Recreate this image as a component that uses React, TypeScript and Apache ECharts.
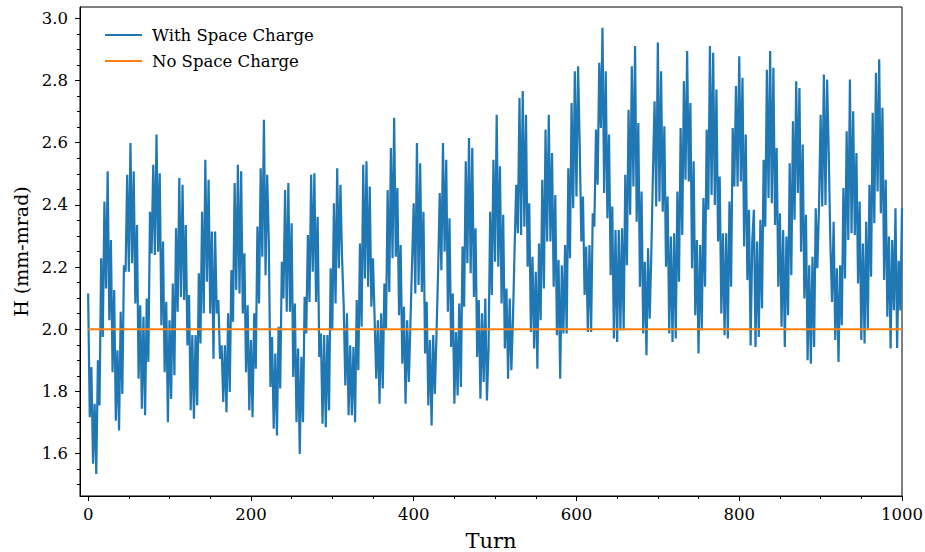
import React, { useEffect, useRef } from "react";
import * as echarts from "echarts";

// Sampling step of the digitised "With Space Charge" trace (turns)
const TURN_STEP = 2;

// H (mm-mrad) with space charge, turns 0..154
const withScA = [
  2.115, 1.717, 1.878, 1.567, 1.760, 1.534, 1.900, 1.755, 2.228, 1.975,
  2.411, 2.131, 2.508, 2.029, 2.287, 1.862, 2.126, 1.706, 1.932, 1.674,
  2.056, 1.792, 2.206, 2.185, 2.497, 2.185, 2.599, 2.212, 2.508, 2.083,
  2.335, 1.841, 2.077, 1.744, 2.040, 1.723, 2.099, 1.895, 2.378, 2.244,
  2.529, 2.239, 2.626, 2.249, 2.502, 2.013, 2.282, 1.862, 2.088, 1.701,
  2.029, 1.776, 2.147, 1.852, 2.325, 2.056, 2.486, 2.104, 2.465, 2.094,
  2.335, 1.948, 2.110, 1.739, 1.981, 1.712, 1.981, 1.755, 2.180, 1.954,
  2.378, 2.051, 2.545, 2.153, 2.481, 2.051, 2.314, 1.905,
];
// turns 156..322
const withScB = [
  2.314, 2.051, 2.094, 1.905, 1.948, 1.766, 1.948, 1.733, 2.051, 1.798,
  2.190, 2.024, 2.470, 2.126, 2.529, 2.115, 2.508, 2.051, 2.244, 1.862,
  2.077, 1.739, 1.965, 1.717, 2.051, 1.873, 2.330, 2.083, 2.518, 2.233,
  2.674, 2.174, 2.497, 2.282, 1.814, 1.975, 1.680, 1.922, 1.658, 2.008,
  1.809, 2.217, 2.099, 2.448, 2.056, 2.470, 2.056, 2.341, 1.846, 2.083,
  1.701, 1.938, 1.599, 1.911, 1.701, 2.104, 1.986, 2.303, 2.088, 2.497,
  2.185, 2.502, 2.088, 2.362, 1.911, 1.986, 1.696, 1.981, 1.685, 1.981,
  1.739, 2.196, 1.997, 2.405, 2.083, 2.518, 2.196, 2.465, 2.228, 2.077,
  1.819, 2.051, 1.723, 1.948,
];
// turns 324..490
const withScC = [
  1.723, 1.943, 1.701, 2.094, 1.868, 2.276, 2.008, 2.529, 2.163, 2.540,
  2.137, 2.459, 2.072, 2.228, 2.034, 1.841, 2.029, 1.760, 2.051, 1.809,
  2.147, 2.002, 2.448, 2.120, 2.583, 2.228, 2.680, 2.233, 2.454, 2.045,
  2.271, 1.889, 2.072, 1.760, 2.029, 1.830, 2.018, 2.212, 2.405, 2.115,
  2.599, 2.142, 2.534, 2.120, 2.378, 1.922, 2.088, 1.755, 1.965, 1.690,
  1.981, 1.792, 1.981, 2.185, 2.438, 2.190, 2.599, 2.249, 2.545, 2.056,
  2.357, 1.943, 2.115, 1.760, 1.991, 1.787, 2.083, 1.814, 2.266, 2.072,
  2.540, 2.212, 2.615, 2.180, 2.583, 2.104, 2.325, 1.911, 2.094, 1.776,
  2.051, 1.830, 2.099, 1.771,
];
// turns 492..654
const withScD = [
  1.938, 2.378, 2.110, 2.545, 2.217, 2.690, 2.201, 2.524, 2.083, 2.368,
  1.938, 2.131, 1.841, 2.099, 1.868, 2.034, 2.260, 2.465, 2.309, 2.744,
  2.303, 2.766, 2.330, 2.690, 2.201, 2.405, 1.991, 2.233, 1.938, 2.185,
  1.873, 2.276, 2.029, 2.481, 2.131, 2.642, 2.282, 2.690, 2.282, 2.567,
  2.137, 2.432, 1.981, 2.223, 1.841, 2.206, 1.986, 2.271, 1.986, 2.518,
  2.228, 2.728, 2.389, 2.830, 2.427, 2.846, 2.594, 2.282, 2.427, 2.110,
  2.266, 1.991, 2.271, 1.991, 2.373, 2.330, 2.642, 2.465, 2.857, 2.647,
  2.970, 2.438, 2.830, 2.357, 2.626, 2.174, 2.395, 1.970, 2.319, 1.959,
  2.319, 1.997,
];
// turns 656..816
const withScE = [
  2.325, 1.997, 2.497, 2.206, 2.706, 2.368, 2.846, 2.459, 2.911, 2.346,
  2.663, 2.137, 2.443, 1.986, 2.217, 1.916, 2.260, 2.034, 2.244, 2.508,
  2.733, 2.395, 2.922, 2.411, 2.830, 2.378, 2.653, 2.201, 2.427, 1.986,
  2.298, 1.959, 2.309, 1.970, 2.443, 2.153, 2.647, 2.303, 2.798, 2.481,
  2.895, 2.475, 2.728, 2.196, 2.540, 2.045, 2.287, 1.922, 2.271, 1.997,
  2.422, 2.137, 2.642, 2.384, 2.911, 2.432, 2.889, 2.400, 2.771, 2.282,
  2.491, 2.051, 2.309, 1.981, 2.309, 1.970, 2.411, 2.137, 2.647, 2.459,
  2.782, 2.459, 2.878, 2.475, 2.809, 2.266, 2.626, 2.158, 2.384, 1.948,
  2.282,
];
// turns 818..1000
const withScF = [
  2.384, 1.943, 2.282, 1.975, 2.352, 2.067, 2.545, 2.330, 2.835, 2.422,
  2.895, 2.405, 2.841, 2.335, 2.583, 2.137, 2.373, 2.008, 2.319, 1.943,
  2.298, 2.045, 2.534, 2.174, 2.669, 2.352, 2.798, 2.438, 2.776, 2.249,
  2.594, 2.099, 2.368, 1.900, 2.206, 1.889, 2.233, 1.943, 2.389, 2.196,
  2.389, 2.690, 2.395, 2.819, 2.400, 2.803, 2.561, 2.276, 2.088, 2.346,
  1.965, 2.196, 1.895, 2.206, 2.013, 2.454, 2.163, 2.637, 2.287, 2.803,
  2.309, 2.701, 2.303, 2.567, 2.147, 2.411, 1.965, 2.276, 1.954, 2.346,
  2.002, 2.465, 2.169, 2.696, 2.341, 2.825, 2.443, 2.868, 2.373, 2.712,
  2.158, 2.481, 2.040, 2.298, 1.938, 2.287, 2.061, 2.389, 1.940, 2.220,
  2.060, 2.390,
];

// No space charge: flat at 2.0
const noScTurns = [0, 1000];
const noScValues = [2.0, 2.0];

const xMajorTicks = [0, 200, 400, 600, 800, 1000];
const xMinorTicks = [50, 100, 150, 250, 300, 350, 450, 500, 550, 650, 700, 750, 850, 900, 950];
const yMajorTicks = [1.6, 1.8, 2.0, 2.2, 2.4, 2.6, 2.8, 3.0];
const yMinorTicks = [
  1.5, 1.55, 1.65, 1.7, 1.75, 1.85, 1.9, 1.95, 2.05, 2.1, 2.15, 2.25,
  2.3, 2.35, 2.45, 2.5, 2.55, 2.65, 2.7, 2.75, 2.85, 2.9, 2.95,
];

const X_MIN = -10;
const X_MAX = 1000;
const Y_MIN = 1.4635;
const Y_MAX = 3.0365;

const FONT = "DejaVu Serif";

export default function App() {
  const ref = useRef<HTMLDivElement>(null);

  useEffect(() => {
    if (!ref.current) return;
    const chart = echarts.init(ref.current, undefined, { renderer: "svg" });

    const withSc = [...withScA, ...withScB, ...withScC, ...withScD, ...withScE, ...withScF];
    const withScData = withSc.map((v, i) => [i * TURN_STEP, v]);
    const noScData = noScTurns.map((t, i) => [t, noScValues[i]]);

    const tickLabel = { fontFamily: FONT, fontSize: 16.5, color: "#000" };

    chart.setOption({
      animation: false,
      backgroundColor: "#fff",
      grid: {
        left: 80,
        right: 23,
        top: 7,
        bottom: 56,
        containLabel: false,
        outerBoundsMode: "none",
        show: true,
        borderColor: "#000",
        borderWidth: 1,
        backgroundColor: "transparent",
      },
      legend: {
        show: true,
        orient: "vertical",
        left: 100,
        top: 20,
        icon: "rect",
        itemWidth: 37,
        itemHeight: 2,
        itemGap: 6,
        textStyle: {
          fontFamily: FONT,
          fontSize: 16.5,
          color: "#000",
          lineHeight: 20,
          padding: [0, 0, 0, 5],
        },
        data: ["With Space Charge", "No Space Charge"],
      },
      xAxis: [
        {
          type: "value",
          min: X_MIN,
          max: X_MAX,
          position: "bottom",
          name: "Turn",
          nameLocation: "middle",
          nameGap: 34,
          nameTextStyle: { fontFamily: FONT, fontSize: 21, color: "#000" },
          axisLine: { show: true, onZero: false, lineStyle: { color: "#000", width: 1 } },
          axisTick: {
            show: true,
            customValues: xMajorTicks,
            length: 5,
            lineStyle: { color: "#000", width: 1 },
          },
          axisLabel: {
            ...tickLabel,
            customValues: xMajorTicks,
            margin: 10,
            formatter: (v: number) => String(Math.round(v)),
          },
          splitLine: { show: false },
        },
        {
          type: "value",
          min: X_MIN,
          max: X_MAX,
          position: "bottom",
          axisLine: { show: false, onZero: false },
          axisTick: {
            show: true,
            customValues: xMinorTicks,
            length: 3,
            lineStyle: { color: "#000", width: 1 },
          },
          axisLabel: { show: false },
          splitLine: { show: false },
        },
      ],
      yAxis: [
        {
          type: "value",
          min: Y_MIN,
          max: Y_MAX,
          position: "left",
          name: "H (mm-mrad)",
          nameLocation: "middle",
          nameGap: 47,
          nameRotate: 90,
          nameTextStyle: { fontFamily: FONT, fontSize: 19, color: "#000" },
          axisLine: { show: true, onZero: false, lineStyle: { color: "#000", width: 1 } },
          axisTick: {
            show: true,
            customValues: yMajorTicks,
            length: 5,
            lineStyle: { color: "#000", width: 1 },
          },
          axisLabel: {
            ...tickLabel,
            customValues: yMajorTicks,
            margin: 12,
            formatter: (v: number) => v.toFixed(1),
          },
          splitLine: { show: false },
        },
        {
          type: "value",
          min: Y_MIN,
          max: Y_MAX,
          position: "left",
          axisLine: { show: false, onZero: false },
          axisTick: {
            show: true,
            customValues: yMinorTicks,
            length: 3,
            lineStyle: { color: "#000", width: 1 },
          },
          axisLabel: { show: false },
          splitLine: { show: false },
        },
      ],
      series: [
        {
          name: "With Space Charge",
          type: "line",
          data: withScData,
          symbol: "none",
          lineStyle: { color: "#1f77b4", width: 2.2 },
          itemStyle: { color: "#1f77b4" },
          z: 2,
        },
        {
          name: "No Space Charge",
          type: "line",
          data: noScData,
          symbol: "none",
          lineStyle: { color: "#ff7f0e", width: 2 },
          itemStyle: { color: "#ff7f0e" },
          z: 3,
        },
      ],
    });

    return () => chart.dispose();
  }, []);

  return (
    <div
      ref={ref}
      style={{ position: "absolute", left: 0, top: 0, width: 925, height: 552 }}
    />
  );
}
